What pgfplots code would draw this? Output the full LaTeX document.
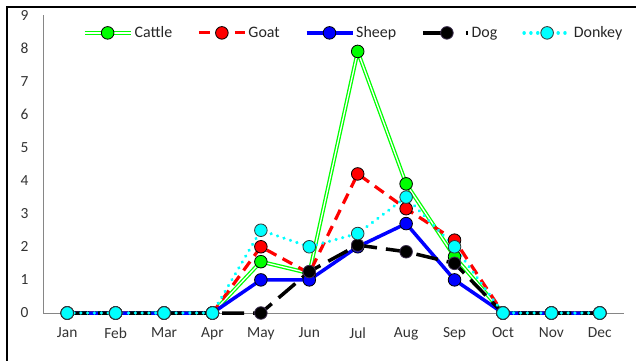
\documentclass[border=0pt]{standalone}
\usepackage{pgfplots}
\usepackage{pgfplotstable}
\pgfplotsset{compat=1.18}
\usepackage{fontspec}
\setmainfont{Carlito}

\definecolor{cattle}{HTML}{00FF00}
\definecolor{goat}{HTML}{FF0000}
\definecolor{sheep}{HTML}{0000FF}
\definecolor{dog}{HTML}{000000}
\definecolor{donkey}{HTML}{00FFFF}
\definecolor{dogedge}{HTML}{403152}
\definecolor{axisgray}{HTML}{868686}

% legend sample for the long-dash series
\pgfplotsset{doglegend/.style={
  legend image code/.code={
    \draw[#1, solid] (0bp,0bp) -- (30bp,0bp);
    \draw[#1, solid] (43bp,0bp) -- (45bp,0bp);
    \draw[#1, solid] plot coordinates {(24bp,0bp)};}}}

% circle marker with a thin outline
\pgfplotsset{dot/.style 2 args={mark=*, mark size=6.3bp,
  mark options={solid, draw=#2, fill=#1, line width=0.8bp, double=none}}}

% monthly counts per species (month 0 = Jan)
\pgfplotstableread{
m  cattle goat sheep dog  donkey
0  0      0    0     0    0
1  0      0    0     0    0
2  0      0    0     0    0
3  0      0    0     0    0
4  1.55   2.0  1     0    2.5
5  1.2    1.2  1     1.25 2.0
6  7.9    4.2  2     2.05 2.4
7  3.9    3.15 2.7   1.85 3.5
8  1.7    2.2  1     1.5  2.0
9  0      0    0     0    0
10 0      0    0     0    0
11 0      0    0     0    0
}\counts

\begin{document}
\begin{tikzpicture}
\useasboundingbox (0bp,0bp) rectangle (636bp,-361bp);
\begin{axis}[
  at={(43bp,-313bp)}, anchor=south west,
  scale only axis, width=581bp, height=298bp,
  xmin=-0.5, xmax=11.5, ymin=0, ymax=9,
  axis lines=left,
  axis line style={-, draw=axisgray, line width=0.8bp},
  xtick={0,...,11},
  xticklabels={Jan,Feb,Mar,Apr,May,Jun,Jul,Aug,Sep,Oct,Nov,Dec},
  ytick={0,...,9},
  major tick length=0pt,
  /pgf/number format/assume math mode=true,
  tick label style={font=\fontsize{15.5}{18}\selectfont, text=black!80},
  yticklabel style={xshift=-11bp},
  xticklabel style={yshift=-11bp},
  clip=false,
  legend columns=5,
  legend style={at={(axis description cs:0.068,0.94)}, anchor=west,
    draw=none, fill=none, inner sep=0pt,
    font=\fontsize{16}{18}\selectfont, text=black!85,
    /tikz/every even column/.append style={column sep=23bp}},
  legend cell align=left,
  legend image code/.code={
    \draw[mark repeat=2, mark phase=2, #1]
      plot coordinates {(0bp,0bp) (23bp,0bp) (46bp,0bp)};},
]
\addplot[draw=cattle, line width=1.3bp, double=white, double distance=1.3bp,
  dot={cattle}{black}]
  table[x=m, y=cattle] {\counts};
\addlegendentry{Cattle}

\addplot[draw=goat, line width=3.2bp, dash pattern=on 11bp off 7bp,
  dot={goat}{black}]
  table[x=m, y=goat] {\counts};
\addlegendentry{Goat}

\addplot[draw=sheep, line width=3.5bp, dot={sheep}{black}]
  table[x=m, y=sheep] {\counts};
\addlegendentry{Sheep}

\addplot[draw=dog, line width=3.5bp, dash pattern=on 22bp off 9bp,
  dot={dog}{dogedge}, doglegend]
  table[x=m, y=dog] {\counts};
\addlegendentry{Dog}

\addplot[draw=donkey, line width=3.5bp, line cap=round,
  dash pattern=on 0.01bp off 6.8bp,
  dot={donkey}{black!80}]
  table[x=m, y=donkey] {\counts};
\addlegendentry{Donkey}
\end{axis}
\draw[line width=2bp] (7bp,-370bp) -- (7bp,-7bp) -- (645bp,-7bp);
\end{tikzpicture}
\end{document}
